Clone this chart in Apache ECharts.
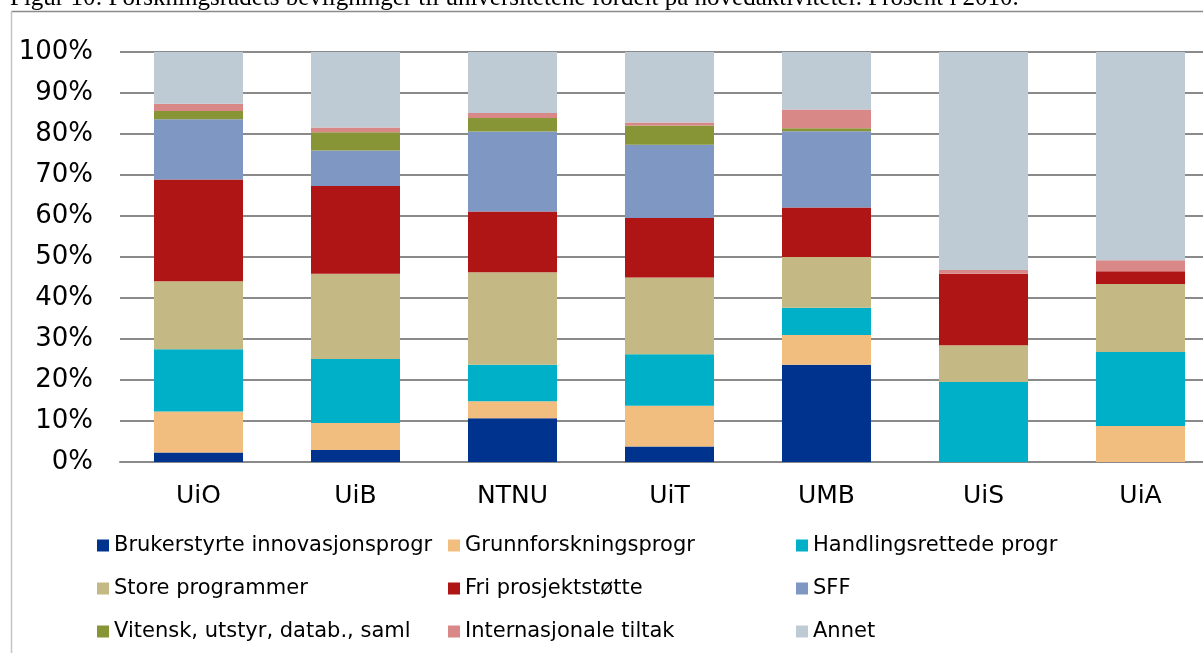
<!DOCTYPE html>
<html>
<head>
<meta charset="utf-8">
<script src="https://cdn.jsdelivr.net/npm/echarts@6/dist/echarts.min.js"></script>
<style>html,body{margin:0;padding:0;background:#fff;overflow:hidden;}#c{width:1222px;height:653px;}</style>
</head>
<body>
<div id="c"></div>
<script>
const titleText = 'Figur 10: Forskningsrådets bevilgninger til universitetene fordelt på hovedaktiviteter. Prosent i 2010.';
const categories = ['UiO', 'UiB', 'NTNU', 'UiT', 'UMB', 'UiS', 'UiA'];
const yTicks = [0, 10, 20, 30, 40, 50, 60, 70, 80, 90, 100];
const seriesNames = ['Brukerstyrte innovasjonsprogr', 'Grunnforskningsprogr', 'Handlingsrettede progr',
  'Store programmer', 'Fri prosjektstøtte', 'SFF', 'Vitensk, utstyr, datab., saml', 'Internasjonale tiltak', 'Annet'];
const brukerstyrte = [2.3, 2.9, 10.7, 3.8, 23.7, 0, 0];
const grunnforskning = [10.0, 6.6, 4.1, 9.9, 7.3, 0, 8.8];
const handlingsrettede = [15.2, 15.6, 8.9, 12.6, 6.6, 19.5, 18.0];
const storeProgrammer = [16.6, 20.8, 22.6, 18.7, 12.4, 9.0, 16.6];
const friProsjekt = [24.8, 21.4, 14.8, 14.5, 12.1, 17.4, 3.1];
const sff = [14.7, 8.7, 19.5, 17.9, 18.6, 0, 0];
const vitensk = [2.0, 4.4, 3.3, 4.7, 0.7, 0, 0];
const internasjonale = [1.8, 1.2, 1.2, 0.7, 4.6, 0.9, 2.7];
const annet = [12.6, 18.4, 14.9, 17.2, 14.0, 53.2, 50.8];
const seriesData = [brukerstyrte, grunnforskning, handlingsrettede, storeProgrammer, friProsjekt, sff, vitensk, internasjonale, annet];
const colors = ['#00338D', '#F2BE80', '#00B0C8', '#C4B985', '#B01515', '#7F98C3', '#879537', '#D98888', '#BECBD4'];

const chart = echarts.init(document.getElementById('c'), null, {renderer: 'canvas'});
const font = '"DejaVu Sans", Verdana, sans-serif';
const legendCol = (names, left) => ({
  orient: 'vertical', left: left, top: 535, itemWidth: 12, itemHeight: 12, itemGap: 22, padding: 0,
  icon: 'rect', data: names, selectedMode: false,
  textStyle: {fontFamily: font, fontSize: 21, color: '#000', lineHeight: 20, padding: [0, 0, 0, 0]}
});
chart.setOption({
  animation: false,
  color: colors,
  graphic: [
    {type: 'text', left: 10, top: -14, style: {text: titleText, font: '25px "Liberation Serif", "Times New Roman", serif', fill: '#000'}},
    {type: 'line', shape: {x1: 11.5, y1: 11.5, x2: 1222, y2: 11.5}, style: {stroke: '#8a8a8a', lineWidth: 1.5}},
    {type: 'line', shape: {x1: 11.5, y1: 11.5, x2: 11.5, y2: 653}, style: {stroke: '#c4c4c4', lineWidth: 1.5}}
  ],
  grid: {left: 120, top: 52, right: 3, bottom: 191, containLabel: false},
  legend: [
    legendCol([seriesNames[0], seriesNames[3], seriesNames[6]], 97),
    legendCol([seriesNames[1], seriesNames[4], seriesNames[7]], 448),
    legendCol([seriesNames[2], seriesNames[5], seriesNames[8]], 796)
  ],
  xAxis: {
    type: 'category', data: categories,
    axisLine: {show: true, lineStyle: {color: '#8a8a8a', width: 2}},
    axisTick: {show: false},
    axisLabel: {fontFamily: font, fontSize: 25, color: '#000', margin: 22}
  },
  yAxis: {
    type: 'value', min: 0, max: 100, interval: 10,
    axisLine: {show: false}, axisTick: {show: false},
    splitLine: {lineStyle: {color: '#8a8a8a', width: 2}},
    axisLabel: {fontFamily: font, fontSize: 26, color: '#000', margin: 27,
      formatter: v => yTicks.includes(v) ? v + '%' : ''}
  },
  series: seriesNames.map((n, i) => ({
    name: n, type: 'bar', stack: 'total', barWidth: 89,
    data: seriesData[i],
    itemStyle: {color: colors[i]}
  }))
});
</script>
</body>
</html>
